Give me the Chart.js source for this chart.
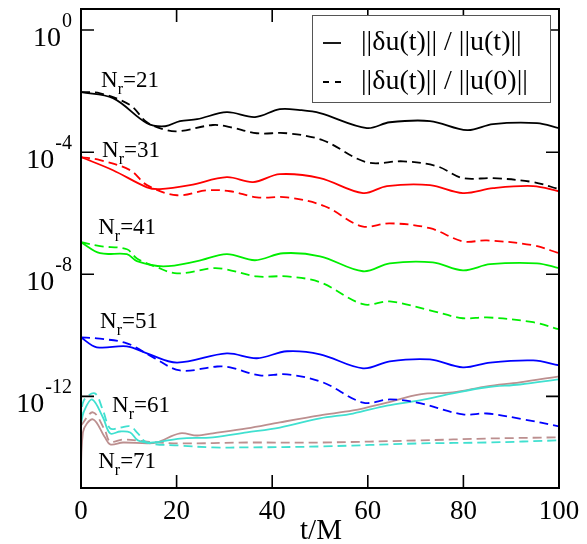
<!DOCTYPE html>
<html><head><meta charset="utf-8">
<script src="https://cdn.jsdelivr.net/npm/chart.js@4/dist/chart.umd.min.js"></script>
<style>body{margin:0;background:#fff}canvas{display:block}</style>
</head><body>
<canvas id="c" width="587" height="544"></canvas>
<script>
// ---- data: time t/M and log10 of the relative error ----
const xTicks = [0, 20, 40, 60, 80, 100];
const yTickExps = [0, -4, -8, -12];

const tSolid21 = [0, 6.7, 13.8, 17.6, 20.7, 24.3, 30.5, 36.4, 41.6, 45.8, 50, 59.8, 64.6, 73, 80.8, 86.2, 95.4, 100];
const logSolid21 = [-2.03, -2.23, -3.05, -3.15, -2.98, -2.92, -2.69, -2.85, -2.59, -2.62, -2.72, -3.21, -3.02, -2.98, -3.28, -3.08, -3.05, -3.21];
const tDash21 = [0, 4, 10.3, 13.8, 18, 20.7, 27.6, 31.2, 36.8, 43.1, 50.6, 59.8, 67.4, 74.5, 79.9, 86.2, 94.6, 100];
const logDash21 = [-2.03, -2.07, -2.46, -3.02, -3.28, -3.31, -3.11, -3.18, -3.38, -3.38, -3.61, -4.33, -4.30, -4.46, -4.85, -4.85, -4.98, -5.21];

const tSolid31 = [0, 6.7, 13.8, 16.5, 22.8, 30.5, 36, 41.6, 50, 59, 64, 73, 79.9, 86.2, 94.6, 100];
const logSolid31 = [-4.16, -4.59, -5.15, -5.21, -5.08, -4.82, -4.98, -4.72, -4.85, -5.34, -5.11, -5.08, -5.34, -5.18, -5.11, -5.28];
const tDash31 = [0, 4, 10.3, 13.8, 20.1, 26.4, 31.2, 36.8, 43.1, 51, 58.8, 64.6, 73, 79.9, 84.9, 94.6, 100];
const logDash31 = [-4.16, -4.26, -4.59, -5.08, -5.41, -5.25, -5.28, -5.48, -5.48, -5.77, -6.43, -6.33, -6.49, -6.92, -6.89, -7.05, -7.31];

const tSolid41 = [0, 4, 9.6, 11.7, 17.2, 24.3, 30.5, 36.4, 42.3, 50, 59, 64.6, 73.6, 79.9, 85.6, 95.4, 100];
const logSolid41 = [-6.95, -7.31, -7.34, -7.57, -7.74, -7.57, -7.34, -7.54, -7.31, -7.41, -7.90, -7.64, -7.61, -7.87, -7.67, -7.64, -7.80];
const tDash41 = [0, 4, 9.6, 11.7, 15.9, 20.1, 27.6, 30.5, 36.8, 43.1, 50, 59, 64.6, 73, 79.9, 84.9, 94.6, 100];
const logDash41 = [-6.95, -7.08, -7.18, -7.48, -7.77, -7.97, -7.80, -7.84, -8.07, -8.07, -8.26, -8.98, -8.89, -9.18, -9.44, -9.41, -9.57, -9.80];

const tSolid51 = [0, 3.3, 9.6, 13.8, 20.1, 30.5, 36.8, 43.1, 50, 59, 64.6, 73, 79.9, 85.6, 94.6, 100];
const logSolid51 = [-10.07, -10.39, -10.36, -10.59, -10.89, -10.59, -10.75, -10.52, -10.62, -11.08, -10.85, -10.79, -11.05, -10.89, -10.82, -10.98];
const tDash51 = [0, 3.3, 9.6, 15.1, 20.7, 28.5, 31.2, 37.4, 43.1, 50.6, 59, 64.6, 70.3, 79.9, 84.9, 92.5, 100];
const logDash51 = [-10.07, -10.10, -10.26, -10.72, -11.15, -11.02, -11.05, -11.31, -11.28, -11.54, -12.20, -12.10, -12.20, -12.59, -12.56, -12.75, -12.98];

const tSolid61 = [0, 0.6, 2.3, 4.6, 6.1, 8.2, 10.3, 11.9, 15.1, 20.7, 27.6, 34.7, 41.6, 50, 56.9, 64, 70.9, 77.8, 84.9, 91.8, 100];
const logSolid61 = [-12.9, -12.5, -12.10, -12.69, -13.21, -13.15, -13.18, -13.44, -13.51, -13.38, -13.34, -13.18, -13.02, -12.72, -12.56, -12.30, -12.13, -11.90, -11.70, -11.61, -11.44];
const tDash61 = [0, 0.6, 2.9, 4.6, 6.1, 8.2, 10.3, 11.9, 13.8, 20.7, 27.6, 34.7, 50, 70.9, 84.9, 100];
const logDash61 = [-12.8, -12.13, -11.90, -12.46, -13.05, -13.02, -12.98, -13.21, -13.51, -13.61, -13.67, -13.67, -13.64, -13.54, -13.51, -13.44];

const tSolid71 = [0, 0.4, 2.5, 5, 6.1, 8.8, 13.8, 15.9, 20.7, 24.3, 27.6, 34.7, 41.6, 50, 56.9, 64, 70.9, 77.8, 84.9, 91.8, 100];
const logSolid71 = [-16, -13.18, -12.75, -13.34, -13.57, -13.51, -13.54, -13.51, -13.21, -13.28, -13.21, -13.05, -12.85, -12.62, -12.46, -12.20, -11.93, -11.87, -11.67, -11.54, -11.34];
const tDash71 = [0, 2.5, 5, 6.1, 8.8, 13.8, 20.7, 34.7, 50, 70.9, 84.9, 100];
const logDash71 = [-12.95, -12.52, -13.11, -13.48, -13.41, -13.48, -13.54, -13.51, -13.51, -13.44, -13.38, -13.34];

const resolutionLabels = ['21', '31', '41', '51', '61', '71'];
const legendLabels = ['||\u03b4u(t)|| / ||u(t)||', '||\u03b4u(t)|| / ||u(0)||'];

// ---- styling ----
const SERIF = '"Liberation Serif", "DejaVu Serif", serif';
const DASH = [9, 5];
const series = [
  {t: tSolid21, v: logSolid21, color: '#000000', dash: []},
  {t: tDash21, v: logDash21, color: '#000000', dash: DASH},
  {t: tSolid31, v: logSolid31, color: '#ff0000', dash: []},
  {t: tDash31, v: logDash31, color: '#ff0000', dash: DASH},
  {t: tSolid41, v: logSolid41, color: '#00ee00', dash: []},
  {t: tDash41, v: logDash41, color: '#00ee00', dash: DASH},
  {t: tSolid51, v: logSolid51, color: '#0000ff', dash: []},
  {t: tDash51, v: logDash51, color: '#0000ff', dash: DASH},
  {t: tSolid61, v: logSolid61, color: '#40e0d0', dash: []},
  {t: tDash61, v: logDash61, color: '#40e0d0', dash: DASH},
  {t: tSolid71, v: logSolid71, color: '#bc8f8f', dash: []},
  {t: tDash71, v: logDash71, color: '#bc8f8f', dash: DASH}
];
// label anchors in data coordinates (t, log10 value of baseline)
const labelAnchors = [[4.2, -1.87], [4.4, -4.16], [3.6, -6.69], [4.0, -9.77], [6.5, -12.52], [3.6, -14.33]];

const datasets = series.map(s => ({
  data: s.t.map((t, i) => ({x: t, y: Math.pow(10, s.v[i])})),
  borderColor: s.color,
  borderDash: s.dash,
  borderWidth: 1.8,
  pointRadius: 0,
  fill: false,
  tension: 0.35
}));

const bgPlugin = {
  id: 'bg',
  beforeDraw(chart) {
    const ctx = chart.ctx;
    ctx.save(); ctx.fillStyle = '#fff'; ctx.fillRect(0, 0, chart.width, chart.height); ctx.restore();
  }
};

const framePlugin = {
  id: 'frame',
  afterDraw(chart) {
    const ctx = chart.ctx, a = chart.chartArea, xs = chart.scales.x, ys = chart.scales.y;
    ctx.save();
    ctx.strokeStyle = '#000';
    ctx.fillStyle = '#000';
    ctx.lineWidth = 2;
    ctx.strokeRect(a.left, a.top, a.right - a.left, a.bottom - a.top);
    const TL = 13;
    // x ticks (inward, top and bottom)
    ctx.lineWidth = 1.6;
    ctx.font = '27px ' + SERIF;
    ctx.textAlign = 'center';
    ctx.textBaseline = 'alphabetic';
    xTicks.forEach(v => {
      const px = xs.getPixelForValue(v);
      ctx.beginPath();
      ctx.moveTo(px, a.bottom); ctx.lineTo(px, a.bottom - TL);
      ctx.moveTo(px, a.top); ctx.lineTo(px, a.top + TL);
      ctx.stroke();
      ctx.fillText(String(v), px, a.bottom + 31);
    });
    // x title
    ctx.font = '29px ' + SERIF;
    ctx.fillText('t/M', 321, 539);
    // y ticks
    yTickExps.forEach(e => {
      const py = ys.getPixelForValue(Math.pow(10, e));
      ctx.beginPath();
      ctx.moveTo(a.left, py); ctx.lineTo(a.left + TL, py);
      ctx.moveTo(a.right, py); ctx.lineTo(a.right - TL, py);
      ctx.stroke();
      ctx.textAlign = 'left';
      ctx.font = '28px ' + SERIF;
      const wBase = ctx.measureText('10').width;
      ctx.font = '20px ' + SERIF;
      const sup = String(e);
      const wSup = ctx.measureText(sup).width;
      const right = a.left - 10;
      const bx = right - wSup - wBase;
      ctx.font = '28px ' + SERIF;
      ctx.fillText('10', bx, py + 16);
      ctx.font = '20px ' + SERIF;
      ctx.fillText(sup, bx + wBase + 1, py - 3);
    });
    // resolution labels N_r=..
    resolutionLabels.forEach((lab, i) => {
      const px = xs.getPixelForValue(labelAnchors[i][0]);
      const py = ys.getPixelForValue(Math.pow(10, labelAnchors[i][1]));
      ctx.textAlign = 'left';
      ctx.font = '23px ' + SERIF;
      ctx.fillText('N', px, py);
      const wN = ctx.measureText('N').width;
      ctx.font = '16px ' + SERIF;
      ctx.fillText('r', px + wN, py + 7);
      const wr = ctx.measureText('r').width;
      ctx.font = '23px ' + SERIF;
      ctx.fillText('=' + lab, px + wN + wr, py);
    });
    // legend box
    const lx = a.right - 247, ly = a.top + 6, lw = 238, lh = 87;
    ctx.fillStyle = '#fff';
    ctx.fillRect(lx, ly, lw, lh);
    ctx.strokeStyle = '#555';
    ctx.lineWidth = 1;
    ctx.strokeRect(lx + 0.5, ly + 0.5, lw, lh);
    ctx.strokeStyle = '#000';
    ctx.lineWidth = 1.8;
    const rows = [ly + 28, ly + 67];
    ctx.beginPath(); ctx.setLineDash([]);
    ctx.moveTo(lx + 11, rows[0]); ctx.lineTo(lx + 29, rows[0]); ctx.stroke();
    ctx.beginPath(); ctx.setLineDash([6, 6]);
    ctx.moveTo(lx + 11, rows[1]); ctx.lineTo(lx + 29, rows[1]); ctx.stroke();
    ctx.setLineDash([]);
    ctx.fillStyle = '#000';
    ctx.font = '28px ' + SERIF;
    ctx.textBaseline = 'middle';
    legendLabels.forEach((t, i) => ctx.fillText(t, lx + 49, rows[i]));
    ctx.restore();
  }
};

new Chart(document.getElementById('c'), {
  type: 'line',
  data: {datasets},
  options: {
    responsive: false,
    animation: false,
    devicePixelRatio: 1,
    layout: {padding: {left: 81, right: 28, top: 9, bottom: 56}},
    scales: {
      x: {type: 'linear', min: 0, max: 100, display: false},
      y: {type: 'logarithmic', min: 1e-15, max: 4.9, display: false}
    },
    plugins: {legend: {display: false}, tooltip: {enabled: false}}
  },
  plugins: [bgPlugin, framePlugin]
});
</script>
</body></html>
